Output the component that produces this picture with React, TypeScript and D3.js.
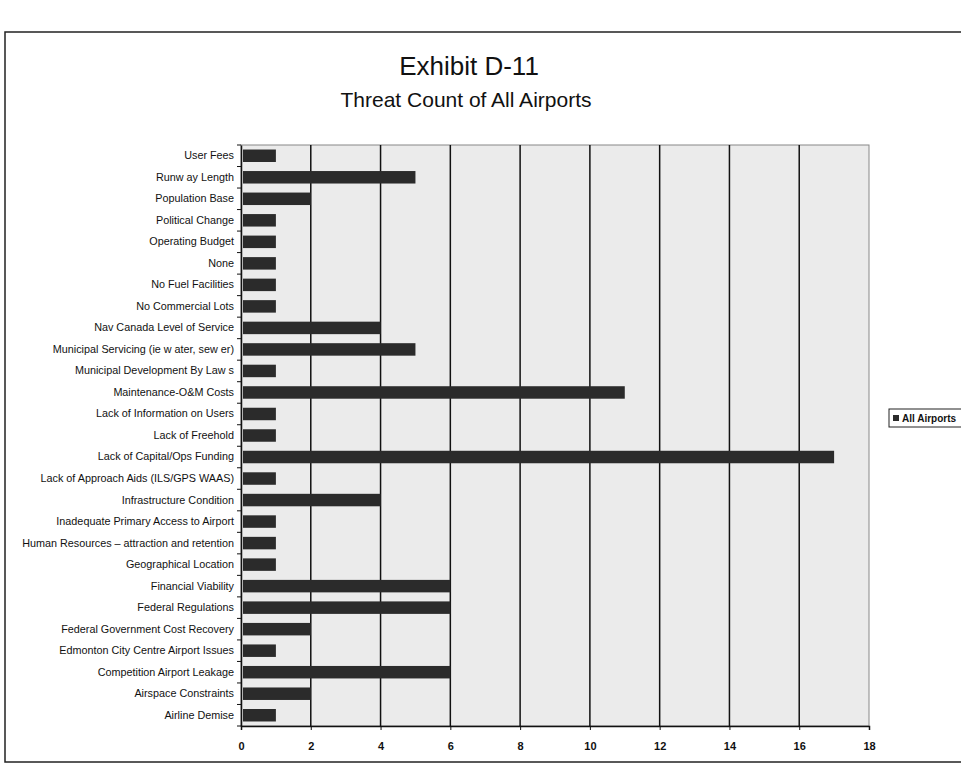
import { useEffect, useRef } from 'react';
import * as d3 from 'd3';

const categories = [
  'User Fees',
  'Runw ay Length',
  'Population Base',
  'Political Change',
  'Operating Budget',
  'None',
  'No Fuel Facilities',
  'No Commercial Lots',
  'Nav Canada Level of Service',
  'Municipal Servicing (ie w ater, sew er)',
  'Municipal Development By Law s',
  'Maintenance-O&M Costs',
  'Lack of Information on Users',
  'Lack of Freehold',
  'Lack of Capital/Ops Funding',
  'Lack of Approach Aids (ILS/GPS WAAS)',
  'Infrastructure Condition',
  'Inadequate Primary Access to Airport',
  'Human Resources \u2013 attraction and retention',
  'Geographical Location',
  'Financial Viability',
  'Federal Regulations',
  'Federal Government Cost Recovery',
  'Edmonton City Centre Airport Issues',
  'Competition Airport Leakage',
  'Airspace Constraints',
  'Airline Demise',
];

const allAirports = [1, 5, 2, 1, 1, 1, 1, 1, 4, 5, 1, 11, 1, 1, 17, 1, 4, 1, 1, 1, 6, 6, 2, 1, 6, 2, 1];

const xTicks = [0, 2, 4, 6, 8, 10, 12, 14, 16, 18];

const seriesName = 'All Airports';
const title = 'Exhibit D-11';
const subtitle = 'Threat Count of All Airports';

const App = () => {
  const svgRef = useRef<SVGSVGElement>(null);

  useEffect(() => {
    if (!svgRef.current) return;
    const svg = d3.select(svgRef.current);
    svg.selectAll('*').remove();

    const width = 961;
    const height = 769;
    const plot = { left: 241, right: 869, top: 145, bottom: 726 };
    const font = '"Liberation Sans", Arial, sans-serif';

    svg.attr('width', width).attr('height', height);

    svg.append('rect').attr('width', width).attr('height', height).attr('fill', '#fff');

    // outer frame of the exhibit
    svg.append('rect')
      .attr('x', 5).attr('y', 32)
      .attr('width', width + 10).attr('height', 730)
      .attr('fill', 'none').attr('stroke', '#222').attr('stroke-width', 1.5);

    svg.append('text')
      .attr('x', 469).attr('y', 75)
      .attr('text-anchor', 'middle')
      .attr('font-family', font).attr('font-size', 26)
      .attr('fill', '#111')
      .text(title);

    svg.append('text')
      .attr('x', 466).attr('y', 107)
      .attr('text-anchor', 'middle')
      .attr('font-family', font).attr('font-size', 21)
      .attr('fill', '#111')
      .text(subtitle);

    const x = d3.scaleLinear().domain([0, 18]).range([plot.left, plot.right]);
    const y = d3.scaleBand<string>()
      .domain(categories)
      .range([plot.top, plot.bottom])
      .paddingInner(0.42)
      .paddingOuter(0.21);

    // plot background
    svg.append('rect')
      .attr('x', plot.left).attr('y', plot.top)
      .attr('width', plot.right - plot.left).attr('height', plot.bottom - plot.top)
      .attr('fill', '#ebebeb')
      .attr('stroke', '#888').attr('stroke-width', 1);

    // vertical gridlines
    svg.append('g')
      .selectAll('line')
      .data(xTicks.slice(1, -1))
      .join('line')
      .attr('x1', d => x(d)).attr('x2', d => x(d))
      .attr('y1', plot.top).attr('y2', plot.bottom)
      .attr('stroke', '#111').attr('stroke-width', 1.5);

    // bars
    svg.append('g')
      .selectAll('rect')
      .data(allAirports)
      .join('rect')
      .attr('x', x(0) + 2)
      .attr('y', (_, i) => y(categories[i]) || 0)
      .attr('width', d => x(d) - x(0) - 2)
      .attr('height', y.bandwidth())
      .attr('fill', '#2b2b2b');

    // y axis
    const yAxis = svg.append('g')
      .attr('transform', `translate(${plot.left},0)`)
      .call(d3.axisLeft(y).tickSize(0).tickPadding(7));
    yAxis.select('.domain').attr('stroke', '#111').attr('stroke-width', 1.5);
    yAxis.selectAll('text')
      .attr('font-family', font).attr('font-size', 10.8)
      .attr('fill', '#111');

    // small ticks at category boundaries
    const step = y.step();
    svg.append('g')
      .selectAll('line')
      .data(d3.range(categories.length + 1))
      .join('line')
      .attr('x1', plot.left - 4).attr('x2', plot.left)
      .attr('y1', i => plot.top + i * step).attr('y2', i => plot.top + i * step)
      .attr('stroke', '#111');

    // x axis
    const xAxis = svg.append('g')
      .attr('transform', `translate(0,${plot.bottom})`)
      .call(d3.axisBottom(x).tickValues(xTicks).tickSize(4).tickPadding(12));
    xAxis.select('.domain').attr('stroke', '#111').attr('stroke-width', 1.5);
    xAxis.selectAll('line').attr('stroke', '#111');
    xAxis.selectAll('text')
      .attr('font-family', font).attr('font-size', 11).attr('font-weight', 'bold')
      .attr('fill', '#111');

    // legend
    const lg = svg.append('g').attr('transform', 'translate(889,409)');
    lg.append('rect')
      .attr('width', 80).attr('height', 18)
      .attr('fill', '#fff').attr('stroke', '#222');
    lg.append('rect')
      .attr('x', 4).attr('y', 6).attr('width', 6).attr('height', 6)
      .attr('fill', '#2b2b2b');
    lg.append('text')
      .attr('x', 13).attr('y', 13)
      .attr('font-family', font).attr('font-size', 10).attr('font-weight', 'bold')
      .attr('fill', '#111')
      .text(seriesName);
  }, []);

  return <svg ref={svgRef} style={{ position: 'absolute', left: 0, top: 0 }} />;
};

export default App;
